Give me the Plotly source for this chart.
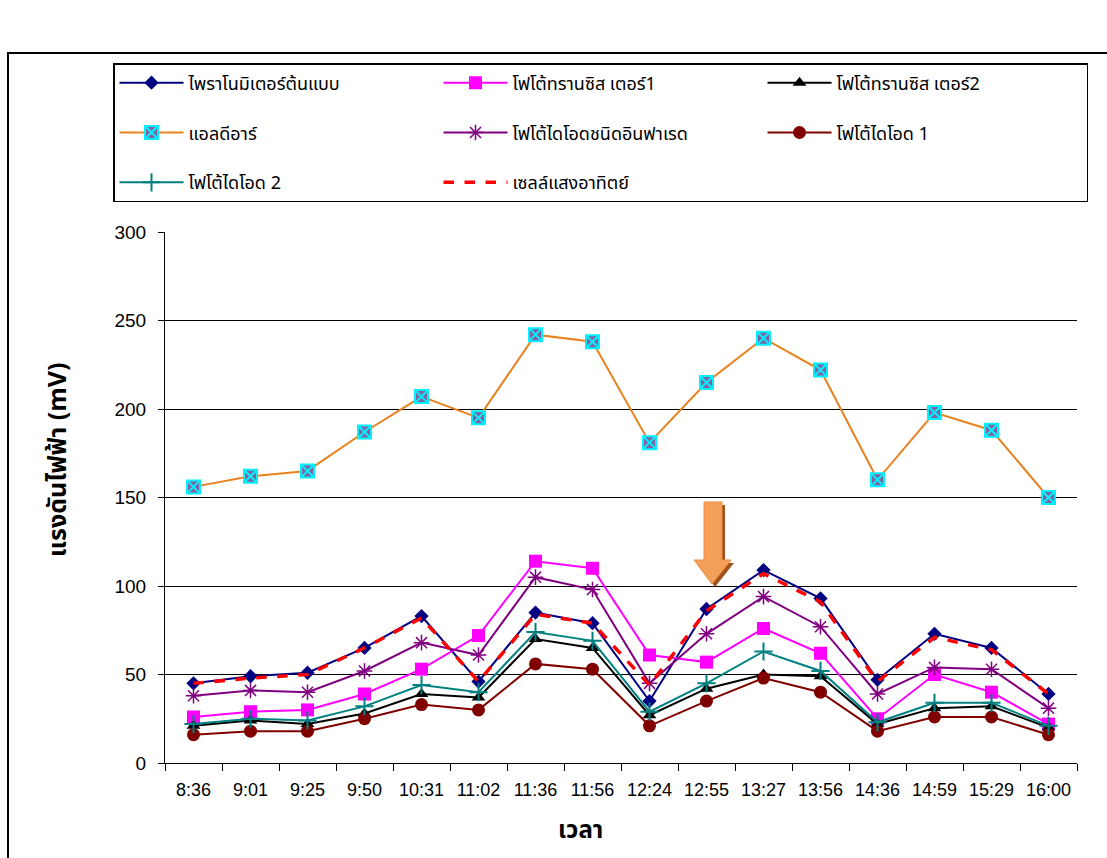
import plotly.graph_objects as go

# Measurement times (x categories)
times = ["8:36", "9:01", "9:25", "9:50", "10:31", "11:02", "11:36", "11:56",
         "12:24", "12:55", "13:27", "13:56", "14:36", "14:59", "15:29", "16:00"]

# Voltage readings (mV) per sensor
pyranometer = [45, 49, 51, 65, 83, 46, 85, 79, 35, 87, 109, 93, 47, 73, 65, 39]
phototransistor1 = [26, 29, 30, 39, 53, 72, 114, 110, 61, 57, 76, 62, 25, 50, 40, 22]
phototransistor2 = [21, 24, 22, 28, 39, 37, 70, 65, 27, 42, 50, 49, 22, 31, 32, 20]
led = [156, 162, 165, 187, 207, 195, 242, 238, 181, 215, 240, 222, 160, 198, 188, 150]
ir_photodiode = [38, 41, 40, 52, 68, 61, 105, 98, 45, 73, 94, 77, 39, 54, 53, 31]
photodiode1 = [16, 18, 18, 25, 33, 30, 56, 53, 21, 35, 48, 40, 18, 26, 26, 16]
photodiode2 = [22, 25, 24, 32, 44, 40, 74, 69, 29, 45, 63, 52, 23, 34, 34, 21]
solar_cell = [45, 48, 50, 65, 82, 46, 84, 79, 44, 86, 107, 91, 46, 71, 64, 39]

THAI = "Angsana New, Noto Sans Thai, Noto Sans Thai Looped, Noto Sans, sans-serif"
NUM = "Arial, Liberation Sans, sans-serif"

# legend rows: the first two rows get a trailing blank line for extra row height
series = [
    ("ไพราโนมิเตอร์ต้นแบบ", pyranometer, True,
     dict(color="#000080", width=2), dict(symbol="diamond", size=11, color="#000080")),
    ("โฟโต้ทรานซิส เตอร์1", phototransistor1, True,
     dict(color="#FF00FF", width=2), dict(symbol="square", size=13, color="#FF00FF")),
    ("โฟโต้ทรานซิส เตอร์2", phototransistor2, True,
     dict(color="#000000", width=2), dict(symbol="triangle-up", size=12, color="#000000")),
    ("แอลดีอาร์", led, True,
     dict(color="#E8821E", width=2),
     dict(symbol="square-x", size=13, color="#8064A2", line=dict(color="#00F0FF", width=2))),
    ("โฟโต้ไดโอดชนิดอินฟาเรด", ir_photodiode, True,
     dict(color="#800080", width=2),
     dict(symbol="asterisk-open", size=13, color="#800080", line=dict(color="#800080", width=1.5))),
    ("โฟโต้ไดโอด 1", photodiode1, True,
     dict(color="#800000", width=2), dict(symbol="circle", size=13, color="#800000")),
    ("โฟโต้ไดโอด 2", photodiode2, False,
     dict(color="#008080", width=2),
     dict(symbol="cross-thin-open", size=13, color="#008080", line=dict(color="#008080", width=2))),
]

fig = go.Figure()
for name, vals, pad, ln, mk in series:
    fig.add_trace(go.Scatter(x=times, y=vals, name=name + ("<br> " if pad else ""),
                             mode="lines+markers", line=ln, marker=mk))
fig.add_trace(go.Scatter(x=times, y=solar_cell, name="เซลล์แสงอาทิตย์", mode="lines",
                         line=dict(color="#FF0000", width=3.5, dash="dash")))

# plot area in pixels: x 165..1077, y 232..763
L, R, T, B = 165, 1077, 232, 763
W, H = R - L, B - T


def px(x):
    return (x - L) / W


def py(y):
    return (B - y) / H


shapes = []
# outer frame
shapes.append(dict(type="rect", xref="paper", yref="paper",
                   x0=px(8), x1=px(1300), y0=py(1000), y1=py(53),
                   line=dict(color="#000000", width=2), fillcolor="rgba(0,0,0,0)", layer="below"))


# downward arrow (shadow then body)
def arrow_path(dx, dy):
    pts = [(704, 502), (722, 502), (722, 560), (731, 560), (712, 584), (694, 560), (704, 560)]
    return "M " + " L ".join(f"{px(x + dx):.5f},{py(y + dy):.5f}" for x, y in pts) + " Z"


shapes.append(dict(type="path", xref="paper", yref="paper", path=arrow_path(3, 3),
                   fillcolor="#A0521E", line=dict(width=0)))
shapes.append(dict(type="path", xref="paper", yref="paper", path=arrow_path(0, 0),
                   fillcolor="#F5A05A", line=dict(color="#F08A3C", width=1)))

annotations = [
    dict(text="<b>แรงดันไฟฟ้า (mV)</b>", xref="paper", yref="paper",
         x=px(58), y=py(460), xanchor="center", yanchor="middle", textangle=-90,
         showarrow=False, font=dict(family=THAI, size=25, color="#000000")),
    dict(text="<b>เวลา</b>", xref="paper", yref="paper",
         x=px(580), y=py(831), xanchor="center", yanchor="middle",
         showarrow=False, font=dict(family=THAI, size=24, color="#000000")),
]

fig.update_layout(
    width=1107, height=858,
    margin=dict(l=L, r=1107 - R, t=T, b=858 - B),
    paper_bgcolor="white", plot_bgcolor="white",
    showlegend=True,
    legend=dict(orientation="h", x=px(113), y=py(63), xanchor="left", yanchor="top",
                entrywidth=245, entrywidthmode="pixels", itemwidth=64, valign="top",
                bordercolor="#000000", borderwidth=1.5, bgcolor="white",
                font=dict(family=THAI, size=18, color="#000000"),
                tracegroupgap=0, traceorder="normal"),
    shapes=shapes,
    annotations=annotations,
    xaxis=dict(type="category", showline=True, linecolor="#000000", linewidth=1,
               ticks="outside", ticklen=7, tickcolor="#000000", tickson="boundaries",
               showgrid=False, range=[-0.5, 15.5], ticklabelstandoff=10,
               tickfont=dict(family=NUM, size=18, color="#000000")),
    yaxis=dict(range=[0, 300], dtick=50, showline=True, linecolor="#000000", linewidth=1,
               ticks="outside", ticklen=6, tickcolor="#000000", ticklabelstandoff=8,
               showgrid=True, gridcolor="#000000", gridwidth=1, zeroline=False,
               tickfont=dict(family=NUM, size=19, color="#000000")),
)

fig.write_html("out.html")
